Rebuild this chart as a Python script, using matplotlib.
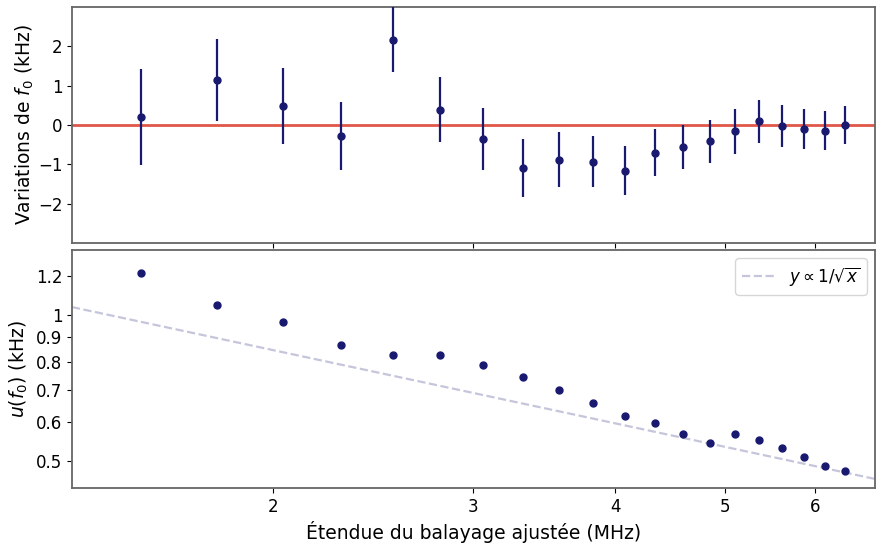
import numpy as np
import matplotlib
matplotlib.use("Agg")
import matplotlib.pyplot as plt
from matplotlib.ticker import FixedLocator, NullLocator, FuncFormatter

# ----------------------------
# Data
# ----------------------------
span = [1.531, 1.786, 2.041, 2.296, 2.551, 2.806, 3.061, 3.316, 3.571, 3.826,
        4.081, 4.336, 4.591, 4.846, 5.101, 5.356, 5.611, 5.866, 6.121, 6.376]
delta_f0 = [0.21, 1.15, 0.48, -0.28, 2.17, 0.39, -0.35, -1.09, -0.88, -0.93,
            -1.16, -0.70, -0.56, -0.41, -0.16, 0.09, -0.03, -0.09, -0.14, 0.00]
u_f0 = [1.219, 1.046, 0.964, 0.864, 0.827, 0.827, 0.789, 0.743, 0.699, 0.658,
        0.619, 0.599, 0.569, 0.545, 0.569, 0.553, 0.531, 0.509, 0.488, 0.476]
fit_coef = 1.195  # y = C / sqrt(x)

x_ticks = [2, 3, 4, 5, 6]
top_yticks = [-2, -1, 0, 1, 2]
bottom_yticks = [0.5, 0.6, 0.7, 0.8, 0.9, 1, 1.2]

# ----------------------------
# Style
# ----------------------------
POINT = "midnightblue"
RED = "#e0574a"
SPINE = "0.4"
W, H = 876, 545
LABEL_FS = 13.5
TICK_FS = 12

fig = plt.figure(figsize=(W / 100, H / 100), dpi=100)
ax1 = fig.add_axes([72 / W, 1 - 243 / H, 803 / W, 236 / H])
ax2 = fig.add_axes([72 / W, 1 - 488 / H, 803 / W, 238 / H], sharex=ax1)

for ax in (ax1, ax2):
    for s in ax.spines.values():
        s.set_color(SPINE)
        s.set_linewidth(1.3)
    ax.tick_params(labelsize=TICK_FS)

# ----------------------------
# Top: variations of f0
# ----------------------------
ax1.axhline(0, color=RED, lw=2, zorder=1)
ax1.errorbar(span, delta_f0, yerr=u_f0, fmt="o", color=POINT, ms=5,
             elinewidth=1.6, capsize=0, zorder=3)
ax1.set_xscale("log")
ax1.set_ylim(-3, 3)
ax1.set_yticks(top_yticks)
ax1.yaxis.set_major_formatter(FuncFormatter(lambda v, p: f"{v:g}".replace("-", "\u2212")))
ax1.set_ylabel("Variations de $f_0$ (kHz)", fontsize=LABEL_FS, labelpad=1)
ax1.tick_params(axis="x", labelbottom=False)

# ----------------------------
# Bottom: uncertainty on f0
# ----------------------------
xs = np.geomspace(1.3, 7, 200)
ax2.plot(xs, fit_coef / np.sqrt(xs), ls="--", color=POINT, alpha=0.25, lw=1.6,
         label=r"$y \propto 1/\sqrt{x}$")
ax2.plot(span, u_f0, "o", color=POINT, ms=5)
ax2.set_yscale("log")
ax2.set_ylim(0.44, 1.357)
ax2.yaxis.set_major_locator(FixedLocator(bottom_yticks))
ax2.yaxis.set_major_formatter(FuncFormatter(lambda v, p: f"{v:g}"))
ax2.yaxis.set_minor_locator(NullLocator())
ax2.set_ylabel("$u(f_0)$ (kHz)", fontsize=LABEL_FS)
ax2.set_xlabel("Étendue du balayage ajustée (MHz)", fontsize=LABEL_FS)
ax2.legend(loc="upper right", fontsize=TICK_FS)

ax2.set_xlim(1.331, 6.77)
ax2.xaxis.set_major_locator(FixedLocator(x_ticks))
ax2.xaxis.set_major_formatter(FuncFormatter(lambda v, p: f"{v:g}"))
ax2.xaxis.set_minor_locator(NullLocator())

fig.savefig("out.png", dpi=100)
